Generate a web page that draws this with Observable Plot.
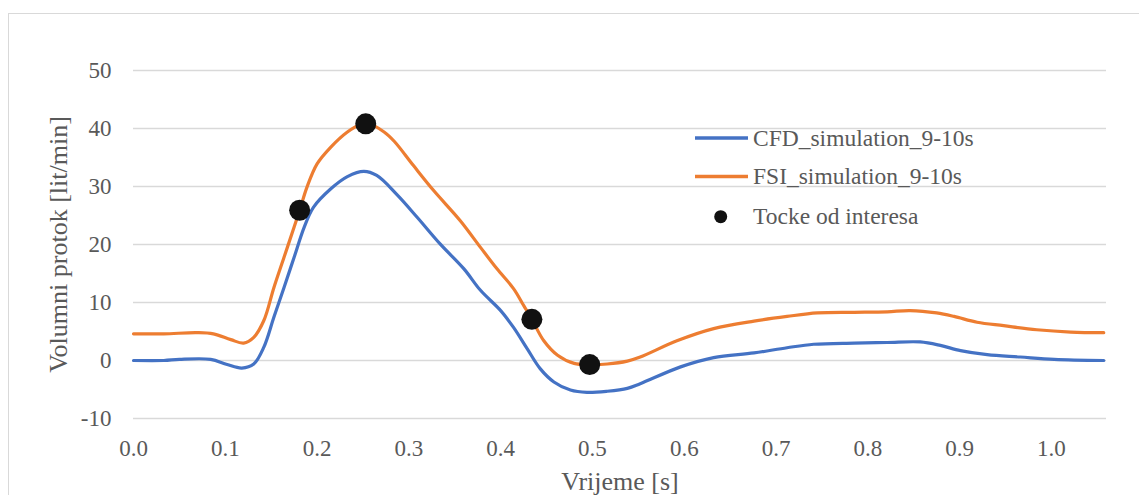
<!DOCTYPE html>
<html>
<head>
<meta charset="utf-8">
<script src="https://cdn.jsdelivr.net/npm/d3@7"></script>
<script src="https://cdn.jsdelivr.net/npm/@observablehq/plot@0.6"></script>
<style>
  html, body { margin: 0; padding: 0; background: #fff; }
  #wrap { position: relative; width: 1139px; height: 495px; overflow: hidden; font-family: 'Liberation Serif'; color: #595959; }
  #frame { position: absolute; left: 8px; top: 13px; width: 1300px; height: 700px; border: 1px solid #D9D9D9; box-sizing: border-box; }
  #chart { position: absolute; left: 0; top: 0; }
  #chart svg, #chart svg text { font-family: 'Liberation Serif' !important; }
  .leg { position: absolute; font-family: 'Liberation Serif'; font-size: 23.5px; line-height: 26px; white-space: nowrap; color: #595959; }
  .sw { position: absolute; }
</style>
</head>
<body>
<div id="wrap">
  <div id="frame"></div>
  <div id="chart"></div>
  <svg class="sw" style="left:690px;top:128px" width="64" height="100">
    <line x1="5" x2="58" y1="10" y2="10" stroke="#4472C4" stroke-width="3.5"/>
    <line x1="5" x2="58" y1="48.5" y2="48.5" stroke="#ED7D31" stroke-width="3.5"/>
    <circle cx="30.7" cy="88.7" r="6.5" fill="#111"/>
  </svg>
  <div class="leg" style="left:753px;top:125px">CFD_simulation_9-10s</div>
  <div class="leg" style="left:753px;top:163px">FSI_simulation_9-10s</div>
  <div class="leg" style="left:753px;top:203px">Tocke od interesa</div>
</div>
<script>
// CFD simulation (blue)
const cfdTime = [0, 0.033, 0.05, 0.084, 0.102, 0.118, 0.131, 0.142, 0.153, 0.164, 0.175, 0.186, 0.196, 0.215, 0.233, 0.251, 0.265, 0.287, 0.309, 0.334, 0.36, 0.378, 0.4, 0.414, 0.429, 0.443, 0.458, 0.476, 0.494, 0.516, 0.538, 0.552, 0.596, 0.632, 0.676, 0.712, 0.741, 0.785, 0.821, 0.857, 0.879, 0.901, 0.93, 0.966, 1.003, 1.057];
const cfdFlow = [0, 0, 0.2, 0.2, -0.7, -1.3, -0.6, 2.3, 7.5, 12.6, 17.8, 23.0, 26.4, 29.6, 31.7, 32.6, 31.9, 28.6, 24.7, 20.1, 15.8, 12.1, 8.6, 5.7, 2.0, -1.4, -3.7, -5.1, -5.5, -5.3, -4.8, -4.0, -1.1, 0.5, 1.3, 2.2, 2.8, 3.0, 3.1, 3.2, 2.6, 1.7, 1.0, 0.6, 0.2, 0];
// FSI simulation (orange)
const fsiTime = [0, 0.033, 0.069, 0.087, 0.106, 0.12, 0.131, 0.142, 0.153, 0.164, 0.175, 0.181, 0.189, 0.2, 0.215, 0.233, 0.247, 0.255, 0.273, 0.284, 0.305, 0.327, 0.356, 0.378, 0.396, 0.414, 0.425, 0.434, 0.447, 0.462, 0.48, 0.497, 0.516, 0.538, 0.552, 0.592, 0.632, 0.676, 0.712, 0.745, 0.785, 0.821, 0.846, 0.875, 0.894, 0.919, 0.948, 0.984, 1.021, 1.057];
const fsiFlow = [4.6, 4.6, 4.8, 4.6, 3.6, 3.0, 4.0, 6.9, 12.6, 17.8, 23.0, 25.9, 29.9, 33.9, 36.8, 39.4, 40.7, 40.9, 39.4, 37.8, 33.6, 29.3, 24.1, 19.5, 15.8, 12.4, 9.5, 7.1, 3.4, 0.9, -0.5, -0.7, -0.6, -0.1, 0.6, 3.4, 5.5, 6.8, 7.6, 8.2, 8.3, 8.4, 8.6, 8.2, 7.6, 6.6, 6.0, 5.3, 4.9, 4.8];
// Points of interest
const poiTime = [0.181, 0.253, 0.434, 0.497];
const poiFlow = [25.9, 40.8, 7.1, -0.7];
// Tick labels
const xTicks = [0, 0.1, 0.2, 0.3, 0.4, 0.5, 0.6, 0.7, 0.8, 0.9, 1.0];
const yTicks = [-10, 0, 10, 20, 30, 40, 50];

const cfd = cfdTime.map((t, i) => ({t, v: cfdFlow[i]}));
const fsi = fsiTime.map((t, i) => ({t, v: fsiFlow[i]}));
const poi = poiTime.map((t, i) => ({t, v: poiFlow[i]}));

const chart = Plot.plot({
  width: 1139,
  height: 495,
  marginLeft: 133,
  marginRight: 33,
  marginTop: 70,
  marginBottom: 77,
  style: { fontFamily: "'Liberation Serif'", fontSize: "23px", color: "#595959", background: "transparent", overflow: "visible" },
  x: { domain: [0, 1.06], ticks: xTicks, tickFormat: d3.format(".1f"), tickSize: 0, tickPadding: 21, label: null },
  y: { domain: [-10, 50], ticks: yTicks, tickFormat: d => String(d), tickSize: 0, tickPadding: 22, label: null },
  marks: [
    Plot.gridY(yTicks, { stroke: "#D9D9D9", strokeOpacity: 1, strokeWidth: 1.4 }),
    Plot.line(cfd, { x: "t", y: "v", stroke: "#4472C4", strokeWidth: 3.2, curve: "catmull-rom" }),
    Plot.line(fsi, { x: "t", y: "v", stroke: "#ED7D31", strokeWidth: 3.2, curve: "catmull-rom" }),
    Plot.dot(poi, { x: "t", y: "v", r: 10.5, fill: "#111", stroke: "none" }),
    Plot.text(["Volumni protok [lit/min]"], { frameAnchor: "left", textAnchor: "middle", lineAnchor: "middle", rotate: -90, dx: -75, fontSize: 26, fill: "#595959" }),
    Plot.text(["Vrijeme [s]"], { frameAnchor: "bottom", textAnchor: "middle", lineAnchor: "middle", dy: 63.5, fontSize: 26, fill: "#595959" })
  ]
});
document.getElementById("chart").appendChild(chart);
</script>
</body>
</html>
